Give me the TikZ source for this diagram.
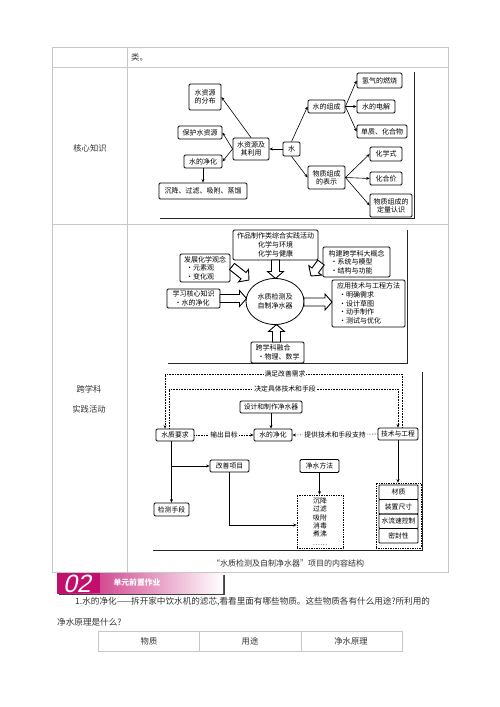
\documentclass[tikz,border=0pt]{standalone}
\usepackage{fontspec}
\setmainfont{Noto Sans CJK SC}
\newfontfamily\bannerfont[FakeSlant=0.22]{Liberation Sans}
\usetikzlibrary{shapes.geometric,arrows.meta,calc}
\definecolor{magA}{RGB}{196,14,110}
\definecolor{magB}{RGB}{214,60,140}
\newcommand\fa{\fontsize{7}{8}\selectfont}
\newcommand\fb{\fontsize{7}{8.7}\selectfont}
\newcommand\fc{\fontsize{6.8}{8.2}\selectfont}
\newcommand\ft{\fontsize{8.3}{10}\selectfont}
\begin{document}
\begin{tikzpicture}[x=1pt,y=-1pt,
  tbl/.style={draw=black!22,line width=0.6pt},
  txt/.style={font=\ft,text=black!80,inner sep=0pt},
  bx/.style={draw,rounded corners=1.2pt,line width=0.8pt,inner sep=0pt,align=center},
  boxa/.style={bx,font=\fa},
  boxb/.style={bx,font=\fb},
  boxc/.style={bx,font=\fc},
  arr/.style={line width=0.6pt,-{Stealth[length=3.5pt,width=3pt]}},
  dotl/.style={line width=0.7pt,densely dotted},
  lbl/.style={fill=white,inner sep=1pt,font=\fc},
  frame/.style={line width=0.7pt,black!85},
  blk/.style={draw=black,fill=white,line width=0.9pt}
]
\useasboundingbox (0,0) rectangle (500,707);
\fill[white] (0,0) rectangle (500,707);

% ---------- main table ----------
\draw[tbl] (52,47) rectangle (448,572);
\draw[tbl] (52,67) -- (448,67);
\draw[tbl] (52,224) -- (448,224);
\draw[tbl] (127,47) -- (127,572);
\node[txt,anchor=west] (lei) at (131,57) {类。};
\node[txt] (hxzs) at (90,148) {核心知识};
\node[txt] (kxk1) at (89,389) {跨学科};
\node[txt] (kxk2) at (89,409) {实践活动};

% ---------- diagram 1 ----------
\draw[frame] (160,218) -- (414,218) -- (414,72);
\node[boxa,minimum width=32,minimum height=26] (n1) at (205,97) {水资源\\的分布};
\node[boxa,minimum width=44,minimum height=13] (n2) at (200,132.5) {保护水资源};
\node[boxa,minimum width=38,minimum height=13] (n3) at (203,161.5) {水的净化};
\node[boxa,minimum width=88,minimum height=16] (n4) at (203,191) {沉降、过滤、吸附、蒸馏};
\node[boxa,minimum width=36,minimum height=22] (n5) at (251,149) {水资源及\\其利用};
\node[boxa,minimum width=17,minimum height=14] (n6) at (291.5,149) {水};
\node[boxa,minimum width=37,minimum height=13] (n7) at (326.5,106.5) {水的组成};
\node[boxa,minimum width=37,minimum height=23] (n8) at (326.5,177.5) {物质组成\\的表示};
\node[boxa,minimum width=45,minimum height=15] (n9) at (379.5,80.5) {氢气的燃烧};
\node[boxa,minimum width=38,minimum height=13] (n10) at (376,106.5) {水的电解};
\node[boxa,minimum width=50,minimum height=13] (n11) at (382,131.5) {单质、化合物};
\node[boxa,minimum width=32,minimum height=14] (n12) at (386,154) {化学式};
\node[boxa,minimum width=32,minimum height=13] (n13) at (386,178.5) {化合价};
\node[boxa,minimum width=42,minimum height=23] (n14) at (391,205.5) {物质组成的\\定量认识};
\draw[arr] (n6.west) -- (n5.east);
\draw[arr] (n5.north) -- (n1.east);
\draw[arr] (n5.west) -- (n2.east);
\draw[arr] (n5.west) -- (n3.east);
\draw[arr] (n3.south) -- (n4.north);
\draw[arr] (n6.north) -- (n7.west);
\draw[arr] (n6.south) -- (n8.west);
\draw[arr] (n7.east) -- (n9.west);
\draw[arr] (n7.east) -- (n10.west);
\draw[arr] (n7.east) -- (n11.west);
\draw[arr] (n8.east) -- (n12.west);
\draw[arr] (n8.east) -- (n13.west);
\draw[arr] (n8.east) -- (n14.west);

% ---------- diagram 2 ----------
\draw[frame] (168,363) -- (407,363) -- (407,230);
\node[boxb,minimum width=85,minimum height=30] (T) at (275.5,245) {作品制作类综合实践活动\\化学与环境\\化学与健康};
\node[boxb,minimum width=50,minimum height=28,align=left] (A) at (205,268) {发展化学观念\\\hspace*{2pt}・元素观\\\hspace*{2pt}・变化观};
\node[boxb,minimum width=67,minimum height=30,align=left] (B) at (356.5,262) {构建跨学科大概念\\\hspace*{2pt}・系统与模型\\\hspace*{2pt}・结构与功能};
\node[boxb,minimum width=53,minimum height=19,align=left] (C) at (193.5,298.5) {学习核心知识\\\hspace*{2pt}・水的净化};
\node[boxb,minimum width=73,minimum height=47,align=left] (D) at (368.5,303.5) {应用技术与工程方法\\\hspace*{2pt}・明确需求\\\hspace*{2pt}・设计草图\\\hspace*{2pt}・动手制作\\\hspace*{2pt}・测试与优化};
\node[boxb,minimum width=53,minimum height=21,align=left] (F) at (277.5,352.5) {跨学科融合\\\hspace*{2pt}・物理、数学};
\node[draw,ellipse,line width=0.8pt,inner sep=0pt,minimum width=58,minimum height=46,font=\fb,align=center] (E) at (275,301.5) {水质检测及\\自制净水器};
% hollow block arrows
\path[blk] (271.5,260) -- (279.5,260) -- (279.5,271.5) -- (283.5,271.5) -- (275.5,278.5) -- (267.5,271.5) -- (271.5,271.5) -- cycle;
\path[blk] (272.5,342) -- (280.5,342) -- (280.5,331.5) -- (284.5,331.5) -- (276.5,324.5) -- (268.5,331.5) -- (272.5,331.5) -- cycle;
\path[blk] (220,294.5) -- (239.5,294.5) -- (239.5,290.5) -- (246.5,298.5) -- (239.5,306.5) -- (239.5,302.5) -- (220,302.5) -- cycle;
\path[blk] (304,298) -- (325,298) -- (325,294) -- (332,302) -- (325,310) -- (325,306) -- (304,306) -- cycle;
\path[blk] (229.5,269.6) -- (241.0,278.8) -- (238.5,281.9) -- (249,280) -- (248.5,269.4) -- (246.0,272.5) -- (234.5,263.4) -- cycle;
\path[blk] (317.8,260.1) -- (312.0,268.0) -- (308.8,265.6) -- (311,276) -- (321.6,275.1) -- (318.4,272.8) -- (324.2,264.9) -- cycle;

% ---------- diagram 3 ----------
\draw[frame] (153,550) -- (422,550) -- (422,372);
\node[boxc,minimum width=62,minimum height=12] (G) at (271,407) {设计和制作净水器};
\node[boxc,minimum width=38,minimum height=12] (H) at (175,435) {水质要求};
\node[boxc,minimum width=38,minimum height=12] (I) at (273,435) {水的净化};
\node[boxc,minimum width=40,minimum height=12] (J) at (398,434) {技术与工程};
\node[boxc,minimum width=39,minimum height=12] (K) at (229.5,466) {改善项目};
\node[boxc,minimum width=39,minimum height=13] (L) at (319.5,466) {净水方法};
\node[boxc,minimum width=35,minimum height=13] (M) at (171.5,509.5) {检测手段};
\node[draw,dotl,inner sep=0pt,minimum width=46,minimum height=53,font=\fontsize{6.8}{8.3}\selectfont,align=center] (N) at (320,521.5) {沉降\\过滤\\吸附\\消毒\\煮沸\\……};
\node[draw,dotl,inner sep=0pt,minimum width=45,minimum height=65] (P) at (398.5,515.5) {};
\node[boxc,rounded corners=0.8pt,minimum width=39,minimum height=14.5] (P1) at (398.5,492.25) {材质};
\node[boxc,rounded corners=0.8pt,minimum width=39,minimum height=14.5] (P2) at (398.5,506.75) {装置尺寸};
\node[boxc,rounded corners=0.8pt,minimum width=39,minimum height=14.5] (P3) at (398.5,521.25) {水流速控制};
\node[boxc,rounded corners=0.8pt,minimum width=39,minimum height=14.5] (P4) at (398.5,535.75) {密封性};
\coordinate (o1) at (402,374);
\coordinate (o2) at (165,374);
\coordinate (i1) at (169,389);
\coordinate (i2) at (398,389);
\draw[dotl,arr,densely dotted] (J.north -| o1) -- (o1) -- (o2) -- (H.north -| o2);
\draw[dotl,arr,densely dotted] (H.north -| i1) -- (i1) -- (i2) -- (J.north -| i2);
\node[lbl] (lb1) at (285,374) {满足改善需求};
\node[lbl] (lb2) at (285,389) {决定具体技术和手段};
\draw[dotl,arr,densely dotted] (H.east) -- (I.west) node[midway,lbl] (lb3) {输出目标};
\draw[dotl,arr,densely dotted] (J.west) -- (I.east) node[midway,lbl] (lb4) {提供技术和手段支持};
\draw[arr] (G.south) -- (G.south |- I.north);
\draw[arr] (M.north |- H.south) -- (M.north);
\coordinate (br) at (M.north |- K.west);
\draw[arr] (br) -- (K.west);
\coordinate (kn) at (229.5,525);
\draw[arr] (K.south) -- (kn) -- (kn -| N.west);
\draw[arr] (L.south) -- (L.south |- N.north);
\draw[arr] (J.south) -- (J.south |- P.north);
\node[txt,font=\fontsize{8}{9}\selectfont] (cap) at (288,563) {“水质检测及自制净水器”项目的内容结构};

% ---------- banner ----------
\fill[black!75] (59,575) rectangle (225,594.5);
\shade[left color=magA,middle color=magB,right color=white] (57,573) rectangle (223,593);
\fill[magA] (57,573) rectangle (100,593);
\node[font=\bannerfont\fontsize{25}{25}\selectfont,text=white,inner sep=0pt] (b02) at (77,584) {02};
\node[font=\fontsize{7.8}{9}\selectfont\bfseries,text=white,inner sep=0pt] (btx) at (137,583) {单元前置作业};

% ---------- body text ----------
\node[txt,anchor=west,font=\fontsize{8.6}{10}\selectfont] (q1) at (75,602) {1.水的净化——拆开家中饮水机的滤芯,看看里面有哪些物质。这些物质各有什么用途?所利用的};
\node[txt,anchor=west,font=\fontsize{8.6}{10}\selectfont] (q2) at (57,622) {净水原理是什么?};
\draw[tbl] (98,631) rectangle (402,651);
\draw[tbl] (199,631) -- (199,651);
\draw[tbl] (301,631) -- (301,651);
\node[txt] (t1) at (149,641) {物质};
\node[txt] (t2) at (250,641) {用途};
\node[txt] (t3) at (351,641) {净水原理};
\end{tikzpicture}
\end{document}
